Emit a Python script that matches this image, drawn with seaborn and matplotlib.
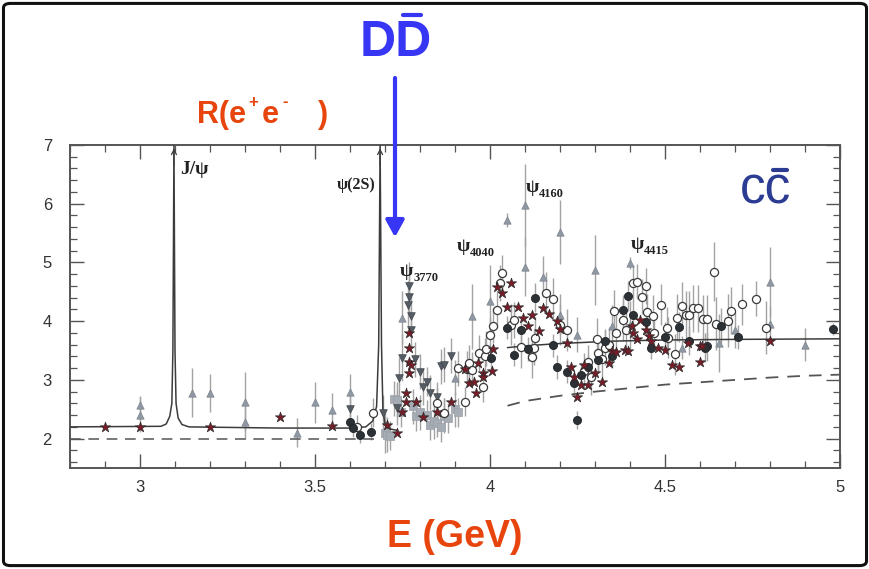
import numpy as np
import pandas as pd
import matplotlib
matplotlib.use("Agg")
import matplotlib.pyplot as plt
from matplotlib.ticker import MultipleLocator, FixedLocator, FixedFormatter
from matplotlib.patches import FancyBboxPatch
from matplotlib.lines import Line2D
import seaborn as sns

# ---------------- data ----------------
tri_up_E = [3.00, 3.00, 3.15, 3.20, 3.30, 3.30, 3.45, 3.50, 3.55, 3.60, 3.75, 3.90, 3.95, 4.00,
            4.05, 4.10, 4.10, 4.15, 4.20, 4.20, 4.25, 4.30, 4.35, 4.40, 4.40, 4.55, 4.655, 4.70,
            4.80, 4.80, 4.90]
tri_up_R = [2.58, 2.41, 2.78, 2.78, 2.63, 2.29, 2.10, 2.62, 2.48, 2.80, 4.06, 3.04, 4.08, 4.35,
            5.72, 5.98, 4.93, 4.76, 5.52, 4.11, 3.77, 4.87, 3.92, 4.99, 3.94, 3.55, 3.63, 3.85,
            4.67, 3.96, 3.60]
tri_up_err = [0.15, 0.30, 0.42, 0.32, 0.50, 0.30, 0.25, 0.35, 0.30, 0.30, 0.45, 0.30, 0.55, 0.60,
              0.12, 0.70, 0.50, 0.35, 0.55, 0.35, 0.30, 0.60, 0.35, 0.10, 0.40, 0.20, 0.50, 0.30,
              0.60, 0.30, 0.28]

tri_dn_E = [3.60, 3.695, 3.735, 3.74, 3.75, 3.765, 3.77, 3.77, 3.775, 3.775, 3.785, 3.80, 3.81,
            3.82, 3.83, 3.85, 3.86, 3.87, 3.89]
tri_dn_R = [2.50, 2.44, 2.53, 3.04, 3.38, 4.28, 4.60, 4.42, 4.08, 3.85, 3.35, 3.14, 2.88,
            2.97, 2.78, 2.71, 3.23, 3.26, 3.41]
tri_dn_err = [0.25, 0.30, 0.30, 0.35, 0.40, 0.40, 0.40, 0.35, 0.35, 0.30, 0.30, 0.30, 0.30,
              0.25, 0.30, 0.25, 0.30, 0.30, 0.30]

sq_E = [3.70, 3.705, 3.715, 3.725, 3.735, 3.745, 3.78, 3.79, 3.80, 3.82, 3.83, 3.84, 3.85,
        3.86, 3.87, 3.88, 3.90, 3.91]
sq_R = [2.10, 2.07, 2.05, 2.68, 2.66, 2.45, 2.55, 2.38, 2.45, 2.41, 2.23, 2.30, 2.27,
        2.20, 2.39, 2.35, 2.50, 2.45]
sq_err = [0.35, 0.30, 0.25, 0.30, 0.30, 0.25, 0.30, 0.25, 0.30, 0.25, 0.25, 0.30, 0.25,
          0.25, 0.30, 0.25, 0.30, 0.25]

open_E = [3.62, 3.665, 3.85, 3.87, 3.91, 3.93, 3.935, 3.94, 3.95, 3.97, 3.98, 3.985, 3.99, 4.00,
          4.01, 4.02, 4.03, 4.035, 4.06, 4.07, 4.09, 4.12, 4.125, 4.13, 4.16, 4.18, 4.20, 4.22,
          4.27, 4.28, 4.29, 4.305, 4.31, 4.32, 4.33, 4.34, 4.355, 4.36, 4.38, 4.39, 4.41, 4.42,
          4.435, 4.445, 4.45, 4.465, 4.47, 4.49, 4.505, 4.51, 4.53, 4.535, 4.55, 4.56, 4.57,
          4.58, 4.595, 4.61, 4.62, 4.64, 4.645, 4.68, 4.69, 4.72, 4.76, 4.79]
open_R = [2.20, 2.44, 2.61, 2.44, 3.20, 2.63, 3.19, 3.29, 3.17, 3.46, 2.88, 3.41, 3.53, 3.77,
          3.92, 4.19, 4.65, 4.82, 3.94, 4.02, 3.56, 3.39, 3.55, 3.72, 4.48, 4.38, 3.94, 3.85,
          3.15, 3.30, 3.05, 3.70, 3.45, 3.35, 3.55, 3.60, 4.18, 3.80, 4.02, 3.85, 4.65, 4.67,
          4.42, 4.60, 4.16, 4.09, 3.80, 4.28, 3.89, 3.72, 3.44, 4.06, 4.26, 4.11, 4.11,
          4.22, 4.22, 4.04, 4.04, 4.84, 3.96, 4.01, 4.18, 4.29, 4.38, 3.89]
open_err = [0.20, 0.25, 0.25, 0.25, 0.30, 0.25, 0.30, 0.30, 0.30, 0.30, 0.25, 0.30, 0.30, 0.30,
            0.30, 0.30, 0.30, 0.30, 0.35, 0.30, 0.35, 0.35, 0.30, 0.35, 0.35, 0.35, 0.35, 0.35,
            0.30, 0.30, 0.30, 0.35, 0.30, 0.30, 0.30, 0.30, 0.35, 0.30, 0.35, 0.30, 0.30, 0.30,
            0.30, 0.30, 0.30, 0.35, 0.30, 0.35, 0.35, 0.35, 0.35, 0.40, 0.40, 0.40, 0.40,
            0.40, 0.40, 0.40, 0.40, 0.50, 0.45, 0.45, 0.40, 0.35, 0.30, 0.45]

dark_E = [3.60, 3.61, 3.63, 3.66, 4.003, 4.05, 4.07, 4.09, 4.11, 4.13, 4.18, 4.19, 4.22, 4.24,
          4.25, 4.26, 4.28, 4.31, 4.33, 4.35, 4.38, 4.395, 4.41, 4.445, 4.46, 4.50, 4.54, 4.57,
          4.62, 4.615, 4.66, 4.71, 4.98]
dark_R = [2.29, 2.18, 2.07, 2.12, 3.38, 3.89, 3.43, 3.85, 3.53, 4.40, 3.59, 3.22, 3.14, 2.95,
          2.32, 3.09, 3.22, 3.34, 3.67, 3.40, 4.19, 4.43, 4.11, 3.99, 3.55, 3.73, 3.90, 3.67,
          3.57, 3.55, 3.92, 3.73, 3.87]
dark_err = [0.15, 0.15, 0.15, 0.15, 0.20, 0.20, 0.20, 0.20, 0.20, 0.25, 0.20, 0.20, 0.20, 0.20,
            0.15, 0.20, 0.20, 0.20, 0.20, 0.20, 0.25, 0.25, 0.25, 0.25, 0.20, 0.25, 0.25, 0.25,
            0.25, 0.25, 0.30, 0.20, 0.10]

star_E = [2.90, 3.00, 3.20, 3.40, 3.55, 3.705, 3.735, 3.76, 3.77, 3.77, 3.77, 3.77, 3.775, 3.75,
          3.76, 3.79, 3.81, 3.85, 3.89, 3.93, 3.94, 3.955, 3.96, 3.965, 3.98, 3.98, 4.005, 4.01,
          4.02, 4.035, 4.05, 4.06, 4.08, 4.095, 4.11, 4.12, 4.14, 4.15, 4.17, 4.19, 4.20, 4.22,
          4.23, 4.24, 4.25, 4.26, 4.27, 4.28, 4.30, 4.32, 4.34, 4.35, 4.36, 4.385, 4.395, 4.405,
          4.41, 4.42, 4.43, 4.445, 4.455, 4.46, 4.48, 4.50, 4.52, 4.54, 4.565, 4.60, 4.60, 4.605,
          4.80]
star_R = [2.20, 2.20, 2.20, 2.37, 2.22, 2.24, 2.10, 2.63, 3.80, 3.55, 3.30, 3.12, 3.26, 2.46,
          2.77, 2.63, 2.37, 2.46, 2.63, 3.19, 2.95, 2.97, 2.78, 3.29, 3.12, 3.05, 3.16, 3.53,
          4.59, 4.48, 4.24, 4.65, 4.24, 4.06, 3.92, 4.11, 3.84, 4.22, 4.12, 4.00, 3.87, 3.63,
          3.22, 3.05, 2.71, 2.92, 3.26, 2.92, 3.12, 2.97, 3.28, 3.50, 3.48, 3.51, 3.50, 3.92,
          3.80, 3.70, 4.02, 3.85, 3.75, 3.67, 3.55, 3.51, 3.26, 3.22, 3.62, 3.57, 3.31, 3.58,
          3.67]

# fitted curves (traced)
fit1_E = [2.80, 3.06, 3.075, 3.085, 3.091, 3.094, 3.097, 3.100, 3.103, 3.109, 3.12, 3.14, 3.40,
          3.60, 3.645, 3.665, 3.676, 3.682, 3.686, 3.690, 3.694, 3.700, 3.71, 3.735]
fit1_R = [2.20, 2.21, 2.25, 2.38, 2.60, 3.50, 7.00, 3.50, 2.60, 2.35, 2.24, 2.20, 2.18,
          2.18, 2.20, 2.30, 2.55, 3.60, 7.00, 3.60, 2.50, 2.25, 2.17, 2.14]
fit2_E = [4.05, 4.10, 4.20, 4.35, 4.50, 4.70, 5.00]
fit2_R = [3.55, 3.58, 3.62, 3.66, 3.68, 3.69, 3.70]
dash1_E = [2.80, 3.67]
dash1_R = [2.00, 2.00]
dash2_E = [4.05, 4.10, 4.20, 4.30, 4.40, 4.50, 4.60, 4.70, 4.80, 4.90, 5.00]
dash2_R = [2.56, 2.64, 2.73, 2.80, 2.86, 2.92, 2.96, 3.00, 3.04, 3.07, 3.09]

x_ticks = [3.0, 3.5, 4.0, 4.5, 5.0]
x_labels = ["3", "3.5", "4", "4.5", "5"]
y_ticks = [2, 3, 4, 5, 6, 7]
y_labels = ["2", "3", "4", "5", "6", "7"]

# ---------------- figure ----------------
sns.set_style("ticks")
plt.rcParams["font.family"] = ["Liberation Sans", "DejaVu Sans"]

W, H = 870, 569
fig = plt.figure(figsize=(W / 100, H / 100), dpi=100)
fig.patch.set_facecolor("white")


def fx(x):
    return x / W


def fy(y):
    return 1 - y / H


ax = fig.add_axes([fx(70), fy(468), (840 - 70) / W, (468 - 145) / H])
ax.set_facecolor("white")

ebar = dict(fmt="none", ecolor="#a3a3a3", elinewidth=1.0, capsize=0, zorder=2)
ax.errorbar(tri_up_E, tri_up_R, yerr=tri_up_err, **ebar)
ax.errorbar(tri_dn_E, tri_dn_R, yerr=tri_dn_err, **ebar)
ax.errorbar(sq_E, sq_R, yerr=sq_err, **ebar)
ax.errorbar(open_E, open_R, yerr=open_err, **ebar)
ax.errorbar(dark_E, dark_R, yerr=dark_err, **ebar)

# curves
sns.lineplot(x=fit1_E, y=fit1_R, ax=ax, color="#3c3c3c", lw=1.1, sort=False, zorder=3)
sns.lineplot(x=fit2_E, y=fit2_R, ax=ax, color="#3c3c3c", lw=1.1, sort=False, zorder=3)
sns.lineplot(x=dash1_E, y=dash1_R, ax=ax, color="#555555", lw=1.1, sort=False, zorder=3,
             dashes=False).lines[-1].set_dashes([7, 5])
sns.lineplot(x=dash2_E, y=dash2_R, ax=ax, color="#555555", lw=1.3, sort=False, zorder=3,
             dashes=False).lines[-1].set_dashes([7, 5])
for xpk in (3.097, 3.686):
    ax.annotate("", xy=(xpk, 6.99), xytext=(xpk, 6.6),
                arrowprops=dict(arrowstyle="->,head_length=0.35,head_width=0.18",
                                lw=0.9, color="#3c3c3c"), zorder=4)

# markers
sns.scatterplot(x=tri_up_E, y=tri_up_R, ax=ax, marker="^", s=28, color="#8f98a3",
                edgecolor="#7b838d", linewidth=0.5, zorder=4)
sns.scatterplot(x=sq_E, y=sq_R, ax=ax, marker="s", s=30, color="#a6acb3",
                edgecolor="#9aa0a7", linewidth=0.5, zorder=4)
sns.scatterplot(x=tri_dn_E, y=tri_dn_R, ax=ax, marker="v", s=30, color="#555c64",
                edgecolor="#3f454c", linewidth=0.5, zorder=5)
sns.scatterplot(x=open_E, y=open_R, ax=ax, marker="o", s=34, color="white",
                edgecolor="#3a3a3a", linewidth=0.9, zorder=5)
sns.scatterplot(x=dark_E, y=dark_R, ax=ax, marker="o", s=34, color="#2c3136",
                edgecolor="#1f2327", linewidth=0.6, zorder=6)
sns.scatterplot(x=star_E, y=star_R, ax=ax, marker="*", s=60, color="#7a1c27",
                edgecolor="#2a2a2a", linewidth=0.5, zorder=7)

# axes styling
ax.set_xlim(2.8, 5.0)
ax.set_ylim(1.5, 7.0)
ax.xaxis.set_major_locator(FixedLocator(x_ticks))
ax.xaxis.set_major_formatter(FixedFormatter(x_labels))
ax.xaxis.set_minor_locator(MultipleLocator(0.1))
ax.yaxis.set_major_locator(FixedLocator(y_ticks))
ax.yaxis.set_major_formatter(FixedFormatter(y_labels))
ax.yaxis.set_minor_locator(MultipleLocator(0.2))
ax.tick_params(which="both", direction="in", top=True, right=True, color="#555555")
ax.tick_params(which="major", length=10, width=1.0, pad=9, labelsize=12,
               labelcolor="#333333")
ax.tick_params(which="minor", length=5, width=0.9)
ax.tick_params(axis="y", which="major", pad=13)
for sp in ax.spines.values():
    sp.set_color("#555555")
    sp.set_linewidth(1.4)
ax.set_xlabel("")
ax.set_ylabel("")

# resonance labels
serif = ["Liberation Serif", "DejaVu Serif"]
ax.text(3.114, 6.575, "J/ψ", family=serif, fontweight="bold", fontsize=14,
        ha="left", va="center", color="#222222", zorder=8)
ax.text(3.561, 6.32, "ψ(2S)", family=serif, fontweight="bold", fontsize=11.5,
        ha="left", va="center", color="#222222", zorder=8)
for (e, r, sub) in [(3.743, 4.85, "3770"), (3.906, 5.27, "4040"),
                    (4.103, 6.27, "4160"), (4.403, 5.30, "4415")]:
    ax.text(e, r, "ψ", family=serif, fontweight="bold", fontsize=14,
            ha="left", va="center", color="#222222", zorder=8)
    ax.annotate(sub, xy=(e, r), xytext=(9.5, -4.5), textcoords="offset points",
                family=serif, fontweight="bold", fontsize=9, ha="left", va="center",
                color="#222222", zorder=8)

# slide annotations
orange = "#E8450E"
blue = "#3636F4"
navy = "#2C3C92"
fig.text(fx(197), fy(123), "R(e", color=orange, fontsize=22, fontweight="bold",
         ha="left", va="baseline")
fig.text(fx(248), fy(107), "+", color=orange, fontsize=12, fontweight="bold",
         ha="left", va="baseline")
fig.text(fx(262), fy(123), "e", color=orange, fontsize=22, fontweight="bold",
         ha="left", va="baseline")
fig.text(fx(282), fy(106), "-", color=orange, fontsize=12, fontweight="bold",
         ha="left", va="baseline")
fig.text(fx(318), fy(123), ")", color=orange, fontsize=22, fontweight="bold",
         ha="left", va="baseline")
fig.text(fx(455), fy(547), "E (GeV)", color=orange, fontsize=27, fontweight="bold",
         ha="center", va="baseline")
fig.text(fx(396), fy(43), "DD", color=blue, fontsize=36, fontweight="bold",
         ha="center", va="center")
fig.add_artist(Line2D([fx(403), fx(421)], [fy(15), fy(15)], color=blue, lw=3.0))
fig.text(fx(766), fy(190), "cc", color=navy, fontsize=37, ha="center", va="center")
fig.add_artist(Line2D([fx(773), fx(787)], [fy(170), fy(170)], color=navy, lw=3.0))
fig.add_artist(Line2D([fx(395), fx(395)], [fy(78), fy(225)], color=blue, lw=3.0))
ax.annotate("", xy=(fx(395), fy(240)), xycoords="figure fraction",
            xytext=(fx(395), fy(222)), textcoords="figure fraction",
            arrowprops=dict(arrowstyle="-|>,head_length=1.0,head_width=0.55",
                            color=blue, lw=3.0), annotation_clip=False)

# slide frame
frame = FancyBboxPatch((0.004, 0.006), 0.992, 0.988,
                       boxstyle="round,pad=0,rounding_size=0.008",
                       transform=fig.transFigure, fill=False, lw=2.2, ec="#111111")
fig.add_artist(frame)

fig.savefig("out.png", dpi=100, facecolor="white")
